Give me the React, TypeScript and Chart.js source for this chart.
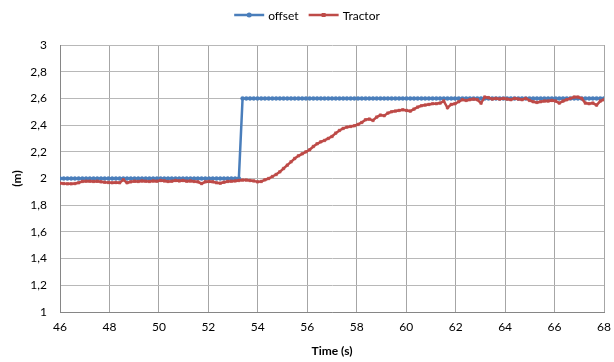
import React, { useEffect, useRef } from "react";
import { Chart, registerables } from "chart.js";

Chart.register(...registerables);

// Time axis: start, end (seconds)
const timeStart = 46;
const timeEnd = 68;
const xTicksStep = 2;
const yMin = 1;
const yMax = 3;
const yStep = 0.2;

const seriesNames = ["offset", "Tractor"];

const offsetValues = [
  2, 2, 2, 2, 2, 2, 2, 2, 2, 2,
  2, 2, 2, 2, 2, 2, 2, 2, 2, 2,
  2, 2, 2, 2, 2, 2, 2, 2, 2, 2,
  2, 2, 2, 2, 2, 2, 2, 2, 2, 2,
  2, 2, 2, 2, 2, 2, 2, 2, 2, 2.6,
  2.6, 2.6, 2.6, 2.6, 2.6, 2.6, 2.6, 2.6, 2.6, 2.6,
  2.6, 2.6, 2.6, 2.6, 2.6, 2.6, 2.6, 2.6, 2.6, 2.6,
  2.6, 2.6, 2.6, 2.6, 2.6, 2.6, 2.6, 2.6, 2.6, 2.6,
  2.6, 2.6, 2.6, 2.6, 2.6, 2.6, 2.6, 2.6, 2.6, 2.6,
  2.6, 2.6, 2.6, 2.6, 2.6, 2.6, 2.6, 2.6, 2.6, 2.6,
  2.6, 2.6, 2.6, 2.6, 2.6, 2.6, 2.6, 2.6, 2.6, 2.6,
  2.6, 2.6, 2.6, 2.6, 2.6, 2.6, 2.6, 2.6, 2.6, 2.6,
  2.6, 2.6, 2.6, 2.6, 2.6, 2.6, 2.6, 2.6, 2.6, 2.6,
  2.6, 2.6, 2.6, 2.6, 2.6, 2.6, 2.6, 2.6, 2.6, 2.6,
  2.6, 2.6, 2.6, 2.6, 2.6, 2.6, 2.6,
];

const tractorValues = [
  1.965, 1.962, 1.96, 1.96, 1.962, 1.968, 1.978, 1.98, 1.98, 1.978,
  1.98, 1.975, 1.972, 1.97, 1.968, 1.97, 1.968, 1.99, 1.968, 1.975,
  1.98, 1.978, 1.982, 1.98, 1.978, 1.982, 1.98, 1.985, 1.982, 1.978,
  1.98, 1.985, 1.982, 1.985, 1.98, 1.982, 1.978, 1.975, 1.962, 1.975,
  1.978, 1.975, 1.968, 1.965, 1.972, 1.978, 1.98, 1.982, 1.985, 1.988,
  1.988, 1.985, 1.982, 1.975, 1.978, 1.99, 2.0, 2.015, 2.03, 2.05,
  2.075, 2.1, 2.125, 2.15, 2.17, 2.185, 2.2, 2.215, 2.24, 2.26,
  2.275, 2.285, 2.3, 2.315, 2.34, 2.36, 2.375, 2.385, 2.39, 2.395,
  2.405, 2.42, 2.44, 2.445, 2.435, 2.46, 2.475, 2.47, 2.49, 2.5,
  2.505, 2.51, 2.515, 2.51, 2.505, 2.52, 2.535, 2.545, 2.55, 2.555,
  2.56, 2.56, 2.565, 2.58, 2.53, 2.555, 2.56, 2.575, 2.59, 2.585,
  2.59, 2.595, 2.59, 2.565, 2.61, 2.605, 2.595, 2.6, 2.595, 2.6,
  2.595, 2.59, 2.6, 2.595, 2.59, 2.6, 2.585, 2.575, 2.57, 2.575,
  2.58, 2.58, 2.585, 2.58, 2.565, 2.58, 2.59, 2.6, 2.61, 2.61,
  2.6, 2.565, 2.56, 2.565, 2.55, 2.58, 2.59,
];

// sample times, evenly spaced over the recorded window
const sampleTimes = offsetValues.map(
  (_, i) => timeStart + (i * (timeEnd - timeStart)) / (offsetValues.length - 1)
);

const BLUE = "#4a7ebb";
const RED = "#be4b48";
const FONT = "Lato, 'Liberation Sans', sans-serif";

const legendPlugin = {
  id: "excelLegend",
  afterDraw(chart: any) {
    const ctx = chart.ctx;
    const ds = chart.data.datasets;
    ctx.save();
    ctx.font = `12px ${FONT}`;
    ctx.textBaseline = "middle";
    const lineW = 30;
    const gap = 4;
    const itemGap = 10;
    const widths = ds.map((d: any) => ctx.measureText(d.label).width);
    let total = 0;
    widths.forEach((w: number, i: number) => {
      total += lineW + gap + w + (i < widths.length - 1 ? itemGap : 0);
    });
    let x = 307 - total / 2;
    const y = 15;
    ds.forEach((d: any, i: number) => {
      ctx.strokeStyle = d.borderColor;
      ctx.lineWidth = 2.5;
      ctx.beginPath();
      ctx.moveTo(x, y);
      ctx.lineTo(x + lineW, y);
      ctx.stroke();
      ctx.fillStyle = d.pointBackgroundColor;
      const cx = x + lineW / 2;
      if (d.pointStyle === "rect") {
        ctx.fillRect(cx - 2, y - 2, 4, 4);
      } else {
        ctx.beginPath();
        ctx.arc(cx, y, 2.5, 0, Math.PI * 2);
        ctx.fill();
      }
      ctx.fillStyle = "#000";
      ctx.fillText(d.label, x + lineW + gap, y + 1);
      x += lineW + gap + widths[i] + itemGap;
    });
    ctx.restore();
  },
};

function fmtY(v: number) {
  const r = Math.round(v * 10) / 10;
  return Number.isInteger(r) ? String(r) : r.toFixed(1).replace(".", ",");
}

export default function App() {
  const ref = useRef<HTMLCanvasElement | null>(null);
  useEffect(() => {
    document.body.style.margin = "0";
    const canvas = ref.current;
    if (!canvas) return;
    const chart = new Chart(canvas, {
      type: "line",
      data: {
        datasets: [
          {
            label: seriesNames[0],
            data: sampleTimes.map((t, i) => ({ x: t, y: offsetValues[i] })),
            borderColor: BLUE,
            backgroundColor: BLUE,
            pointBackgroundColor: BLUE,
            pointBorderColor: BLUE,
            pointStyle: "circle",
            pointRadius: 2,
            pointBorderWidth: 0.5,
            borderWidth: 2.5,
            tension: 0,
            order: 1,
          },
          {
            label: seriesNames[1],
            data: sampleTimes.map((t, i) => ({ x: t, y: tractorValues[i] })),
            borderColor: RED,
            backgroundColor: RED,
            pointBackgroundColor: RED,
            pointBorderColor: RED,
            pointStyle: "rect",
            pointRadius: 1.8,
            pointBorderWidth: 0.5,
            borderWidth: 2.5,
            tension: 0,
            order: 0,
          },
        ] as any,
      },
      options: {
        animation: false,
        responsive: false,
        devicePixelRatio: 1,
        layout: { padding: { top: 45, right: 10, left: 0, bottom: 0 } },
        plugins: {
          legend: { display: false },
          tooltip: { enabled: false },
        },
        scales: {
          x: {
            type: "linear",
            min: timeStart,
            max: timeEnd,
            ticks: {
              stepSize: xTicksStep,
              color: "#000",
              font: { family: FONT, size: 12 },
              padding: 8,
              maxRotation: 0,
            },
            grid: { color: "#a6a6a6", drawTicks: false, lineWidth: 1 },
            border: { color: "#868686", width: 1 },
            title: {
              display: true,
              text: "Time (s)",
              color: "#000",
              font: { family: FONT, size: 12, weight: "bold" },
              padding: { top: 4, bottom: 4 },
            },
            afterFit: (scale: any) => {
              scale.height = 50;
              scale.paddingRight = 0;
              scale.paddingLeft = 0;
            },
          },
          y: {
            type: "linear",
            min: yMin,
            max: yMax,
            ticks: {
              stepSize: yStep,
              color: "#000",
              font: { family: FONT, size: 12 },
              padding: 13,
              callback: (v: any) => fmtY(Number(v)),
            },
            grid: { color: "#b8b8b8", drawTicks: false, lineWidth: 1 },
            border: { color: "#868686", width: 1 },
            title: {
              display: true,
              text: "(m)",
              color: "#000",
              font: { family: FONT, size: 12, weight: "bold" },
              padding: { top: 10, bottom: 4 },
            },
            afterFit: (scale: any) => {
              scale.width = 60;
            },
          },
        },
      } as any,
      plugins: [legendPlugin],
    });
    return () => chart.destroy();
  }, []);
  return (
    <div style={{ width: 614, height: 362, background: "#fff" }}>
      <canvas ref={ref} width={614} height={362} />
    </div>
  );
}
